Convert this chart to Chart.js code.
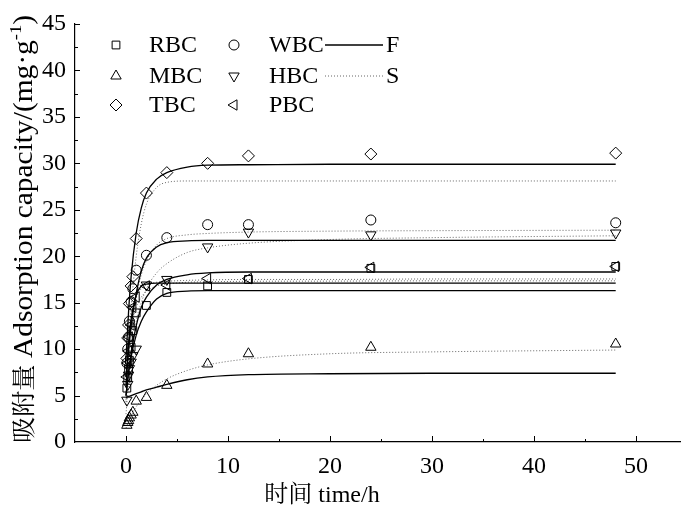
<!DOCTYPE html>
<html>
<head>
<meta charset="utf-8">
<script src="https://cdn.jsdelivr.net/npm/chart.js@4.4.0/dist/chart.umd.min.js"></script>
<style>
  html, body { margin: 0; padding: 0; background: #fff; }
  canvas { display: block; }
</style>
</head>
<body>
<canvas id="chart" width="681" height="509"></canvas>
<script>
// sampling times (h) and measured adsorption capacity (mg/g)
const time = [0.083, 0.167, 0.25, 0.33, 0.5, 0.67, 1, 2, 4, 8, 12, 24, 48];
const rbc = [5.8, 6.9, 7.8, 8.8, 10.2, 12.0, 13.9, 14.7, 16.1, 16.8, 17.5, 18.7, 18.9];
const mbc = [1.8, 2.1, 2.3, 2.6, 2.9, 3.2, 4.4, 4.8, 6.1, 8.4, 9.5, 10.2, 10.55];
const tbc = [9.0, 11.2, 12.6, 14.9, 16.8, 17.8, 21.9, 26.8, 29.0, 30.0, 30.8, 31.0, 31.1];
const wbc = [8.5, 10.0, 11.3, 13.0, 15.1, 16.5, 18.5, 20.1, 22.0, 23.4, 23.4, 23.9, 23.6];
const hbc = [4.5, 6.2, 7.2, 7.9, 8.6, 9.3, 10.0, 16.9, 17.5, 21.0, 22.6, 22.3, 22.5];
const pbc = [7.0, 8.5, 9.8, 11.3, 12.6, 14.5, 15.6, 16.8, 16.9, 17.6, 17.6, 18.8, 18.9];

// fitted curves (F = solid, S = dotted)
const fitTime = [0, 0.25, 0.5, 1, 1.5, 2, 3, 4, 6, 8, 12, 20, 30, 48];
const rbcF = [5.0, 7.5, 9.2, 11.5, 13.0, 14.0, 15.4, 16.0, 16.25, 16.3, 16.3, 16.3, 16.3, 16.3];
const rbcS = [4.5, 9.0, 12.0, 14.5, 15.6, 16.2, 16.8, 17.0, 17.2, 17.25, 17.3, 17.32, 17.35, 17.35];
const mbcF = [4.8, 4.9, 5.0, 5.2, 5.4, 5.6, 5.9, 6.2, 6.7, 7.0, 7.25, 7.35, 7.4, 7.4];
const mbcS = [1.5, 2.2, 2.8, 3.8, 4.5, 5.2, 6.1, 6.8, 7.7, 8.3, 8.95, 9.5, 9.7, 9.9];
const tbcF = [9.0, 14.0, 17.8, 22.5, 25.2, 26.8, 28.3, 29.0, 29.6, 29.8, 29.85, 29.9, 29.9, 29.9];
const tbcS = [6.0, 10.5, 14.5, 20.0, 23.5, 25.6, 27.4, 27.95, 28.1, 28.1, 28.1, 28.1, 28.1, 28.1];
const wbcF = [7.0, 10.0, 12.5, 16.0, 18.4, 19.8, 21.0, 21.45, 21.65, 21.7, 21.7, 21.7, 21.7, 21.7];
const wbcS = [5.0, 8.5, 11.5, 15.5, 18.0, 19.5, 21.2, 21.9, 22.3, 22.45, 22.6, 22.7, 22.75, 22.8];
const hbcF = [5.0, 7.5, 9.5, 12.5, 14.5, 15.6, 16.9, 17.5, 18.0, 18.2, 18.3, 18.3, 18.3, 18.3];
const hbcS = [3.0, 6.5, 9.0, 13.0, 15.0, 16.5, 18.2, 19.2, 20.4, 20.9, 21.4, 21.8, 22.0, 22.2];
const pbcF = [6.0, 10.5, 13.2, 15.8, 16.8, 17.0, 17.1, 17.1, 17.1, 17.1, 17.1, 17.1, 17.1, 17.1];
const pbcS = [4.0, 10.5, 13.5, 15.6, 16.5, 16.9, 17.2, 17.3, 17.4, 17.45, 17.5, 17.5, 17.55, 17.55];

const xTicks = [0, 10, 20, 30, 40, 50];
const yTicks = [0, 5, 10, 15, 20, 25, 30, 35, 40, 45];

const FONT = '"Liberation Serif", "Times New Roman", "Noto Serif CJK SC", "Noto Sans CJK SC", serif';

const pts = (xs, ys) => xs.map((x, i) => ({ x, y: ys[i] }));

const markers = [
  { label: 'RBC', data: rbc, style: 'rect', radius: 5.5, rotation: 0 },
  { label: 'MBC', data: mbc, style: 'triangle', radius: 6, rotation: 0 },
  { label: 'TBC', data: tbc, style: 'rectRot', radius: 6, rotation: 0 },
  { label: 'WBC', data: wbc, style: 'circle', radius: 5, rotation: 0 },
  { label: 'HBC', data: hbc, style: 'triangle', radius: 6, rotation: 180 },
  { label: 'PBC', data: pbc, style: 'triangle', radius: 6, rotation: 270 },
];

const curves = [rbcF, mbcF, tbcF, wbcF, hbcF, pbcF].map(d => ({
  data: pts(fitTime, d), solid: true,
})).concat([rbcS, mbcS, tbcS, wbcS, hbcS, pbcS].map(d => ({
  data: pts(fitTime, d), solid: false,
})));

const datasets = markers.map(m => ({
  label: m.label,
  data: pts(time, m.data),
  showLine: false,
  pointStyle: m.style,
  pointRadius: m.radius,
  pointRotation: m.rotation,
  pointBorderColor: '#000',
  pointBackgroundColor: 'rgba(0,0,0,0)',
  pointBorderWidth: 1,
})).concat(curves.map(c => ({
  data: c.data,
  showLine: true,
  pointRadius: 0,
  borderColor: c.solid ? '#000' : '#666',
  borderWidth: c.solid ? 1.3 : 1,
  borderDash: c.solid ? [] : [1, 2],
  cubicInterpolationMode: 'monotone',
  fill: false,
})));

function drawMarker(ctx, style, radius, rotation, x, y) {
  ctx.save();
  ctx.strokeStyle = '#000';
  ctx.fillStyle = 'rgba(0,0,0,0)';
  ctx.lineWidth = 1;
  Chart.helpers.drawPoint(ctx, { pointStyle: style, radius, rotation, borderWidth: 1 }, x, y);
  ctx.restore();
}

const decor = {
  id: 'decor',
  afterDraw(chart) {
    const { ctx, chartArea } = chart;
    const xs = chart.scales.x, ys = chart.scales.y;
    ctx.save();
    ctx.strokeStyle = '#000';
    ctx.lineWidth = 1;
    // inward ticks
    for (let v = 0; v <= 50; v += 5) {
      const px = Math.round(xs.getPixelForValue(v)) + 0.5;
      const len = v % 10 === 0 ? 6 : 3;
      ctx.beginPath();
      ctx.moveTo(px, chartArea.bottom);
      ctx.lineTo(px, chartArea.bottom - len);
      ctx.stroke();
    }
    for (let v = 2.5; v <= 45; v += 2.5) {
      const py = Math.round(ys.getPixelForValue(v)) + 0.5;
      const len = v % 5 === 0 ? 5 : 3;
      ctx.beginPath();
      ctx.moveTo(chartArea.left, py);
      ctx.lineTo(chartArea.left + len, py);
      ctx.stroke();
    }

    // axis titles
    ctx.fillStyle = '#000';
    ctx.font = '24px ' + FONT;
    ctx.textAlign = 'center';
    ctx.textBaseline = 'alphabetic';
    ctx.fillText('时间 time/h', 322, 502);

    ctx.save();
    ctx.translate(32, 229);
    ctx.rotate(-Math.PI / 2);
    const parts = [
      { t: '吸附量 ', f: '24px ', dy: 0 },
      { t: 'Adsorption capacity/(mg·g', f: '27px ', dy: 0 },
      { t: '-1', f: '17px ', dy: -11 },
      { t: ')', f: '27px ', dy: 0 },
    ];
    let total = 0;
    parts.forEach(p => { ctx.font = p.f + FONT; p.w = ctx.measureText(p.t).width; total += p.w; });
    const stretch = Math.max(1, 428 / total);
    ctx.scale(stretch, 1);
    let sx = -total / 2;
    ctx.textAlign = 'left';
    parts.forEach(p => {
      ctx.font = p.f + FONT;
      ctx.fillText(p.t, sx, p.dy);
      sx += p.w;
    });
    ctx.restore();

    // legend
    const rows = [45, 76, 105];
    ctx.font = '24px ' + FONT;
    ctx.textAlign = 'left';
    ctx.textBaseline = 'middle';
    markers.forEach((m, i) => {
      const col = Math.floor(i / 3), row = i % 3;
      const mx = col === 0 ? 116 : 234;
      const tx = col === 0 ? 149 : 269;
      drawMarker(ctx, m.style, m.radius, m.rotation, mx, rows[row]);
      ctx.fillText(m.label, tx, rows[row] + 1);
    });
    ctx.beginPath();
    ctx.lineWidth = 1.3;
    ctx.moveTo(325, rows[0]);
    ctx.lineTo(383, rows[0]);
    ctx.stroke();
    ctx.beginPath();
    ctx.lineWidth = 1;
    ctx.strokeStyle = '#666';
    ctx.setLineDash([1, 2]);
    ctx.moveTo(325, rows[1]);
    ctx.lineTo(383, rows[1]);
    ctx.stroke();
    ctx.setLineDash([]);
    ctx.fillText('F', 386, rows[0] + 1);
    ctx.fillText('S', 386, rows[1] + 1);
    ctx.restore();
  }
};

new Chart(document.getElementById('chart'), {
  type: 'scatter',
  data: { datasets },
  options: {
    responsive: false,
    animation: false,
    devicePixelRatio: 1,
    layout: { autoPadding: false, padding: { top: 24, right: 0, left: 0, bottom: 0 } },
    plugins: { legend: { display: false }, tooltip: { enabled: false } },
    scales: {
      x: {
        type: 'linear',
        min: -5,
        max: 54.4,
        afterBuildTicks: s => { s.ticks = xTicks.map(v => ({ value: v })); },
        afterFit: s => { s.height = 67; s.paddingLeft = 0; s.paddingRight = 0; },
        grid: { display: false, drawTicks: false },
        border: { display: true, color: '#000', width: 1.2 },
        ticks: { color: '#000', font: { family: FONT, size: 24 }, padding: 10, maxRotation: 0, autoSkip: false },
      },
      y: {
        type: 'linear',
        min: 0,
        max: 45,
        afterBuildTicks: s => { s.ticks = yTicks.map(v => ({ value: v })); },
        afterFit: s => { s.width = 75; s.paddingTop = 0; s.paddingBottom = 0; },
        grid: { display: false, drawTicks: false },
        border: { display: true, color: '#000', width: 1.2 },
        ticks: { color: '#000', font: { family: FONT, size: 24 }, padding: 9 },
      },
    },
  },
  plugins: [decor],
});
</script>
</body>
</html>
